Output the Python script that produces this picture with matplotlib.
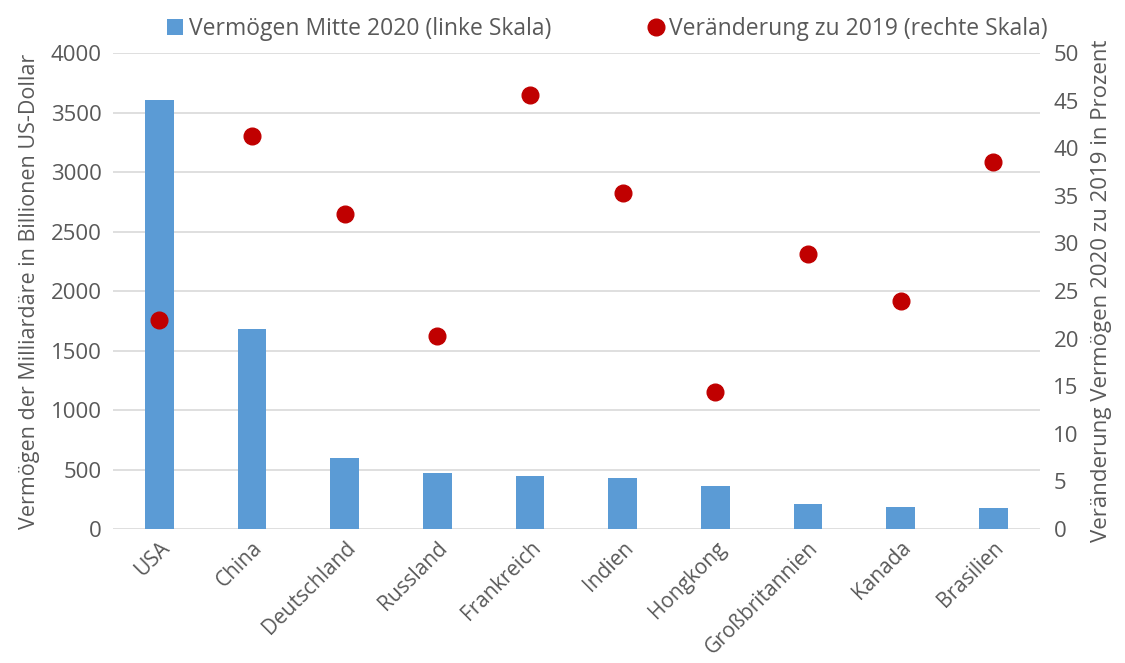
import matplotlib.pyplot as plt
from matplotlib.lines import Line2D
from matplotlib.patches import Patch

plt.rcParams['font.family'] = ['Open Sans', 'DejaVu Sans']

laender = ["USA", "China", "Deutschland", "Russland", "Frankreich", "Indien",
           "Hongkong", "Großbritannien", "Kanada", "Brasilien"]
vermoegen_2020 = [3605, 1680, 597, 470, 445, 425, 362, 210, 184, 178]
veraenderung_2019 = [22.0, 41.3, 33.1, 20.3, 45.6, 35.3, 14.4, 28.9, 23.9, 38.6]

grau = "#595959"
blau = "#5B9BD5"
rot = "#C00000"

fig = plt.figure(figsize=(11.25, 6.63), dpi=100)
ax = fig.add_axes([0.1004, 0.2021, 0.8236, 0.7179])
ax2 = ax.twinx()

x = range(len(laender))
ax.bar(x, vermoegen_2020, width=0.31, color=blau, zorder=2)
ax2.plot(x, veraenderung_2019, 'o', color=rot, markersize=12, zorder=3)

ax.set_ylim(0, 4000)
ax.set_yticks(range(0, 4001, 500))
ax2.set_ylim(0, 50)
ax2.set_yticks(range(0, 51, 5))
ax.set_xlim(-0.5, len(laender) - 0.5)

ax.yaxis.grid(True, color="#D9D9D9", linewidth=1.2, zorder=0)
ax.set_axisbelow(True)
for a in (ax, ax2):
    for s in a.spines.values():
        s.set_visible(False)
    a.tick_params(length=0, labelsize=16, labelcolor=grau)
ax.tick_params(axis='y', pad=8)
ax2.tick_params(axis='y', pad=10)

ax.set_xticks(list(x))
ax.set_xticklabels(laender, rotation=45, ha='right', rotation_mode='anchor',
                   fontsize=15)
ax.tick_params(axis='x', pad=6)

ax.set_ylabel("Vermögen der Milliardäre in Billionen US-Dollar", fontsize=15.5,
              color=grau, labelpad=8)
ax2.set_ylabel("Veränderung Vermögen 2020 zu 2019 in Prozent", fontsize=16,
               color=grau, labelpad=9)

handles = [
    Patch(facecolor=blau, label="Vermögen Mitte 2020 (linke Skala)"),
    Line2D([], [], marker='o', linestyle='none', color=rot, markersize=12,
           label="Veränderung zu 2019 (rechte Skala)"),
]
leg = fig.legend(handles=handles, loc='upper center', bbox_to_anchor=(0.54, 1.005),
                 ncol=2, frameon=False, fontsize=16.5, handlelength=0.7,
                 handletextpad=0.25, columnspacing=4.2)
for t in leg.get_texts():
    t.set_color(grau)

fig.savefig("out.png", dpi=100)
